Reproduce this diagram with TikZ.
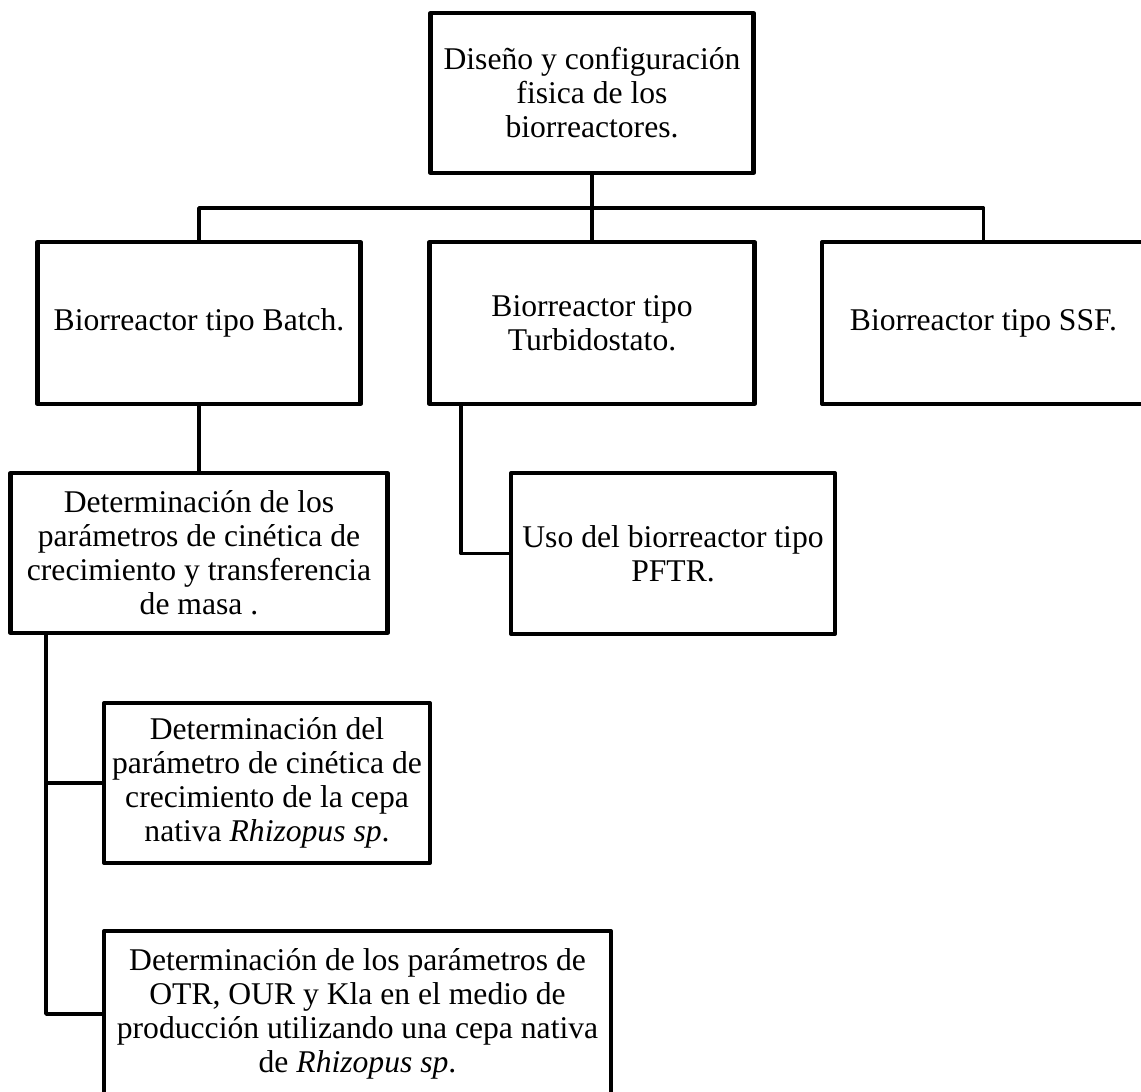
\documentclass[tikz,border=0pt]{standalone}
\usepackage{fontspec}
\setmainfont{Liberation Serif}
\begin{document}
\begin{tikzpicture}[x=0.02cm,y=-0.02cm,
  box/.style={draw,line width=2.4pt,line join=round,fill=white,align=center,inner sep=1pt,
    font=\fontsize{18}{19.4}\selectfont},
  conn/.style={draw,line width=2pt,line join=round}]
\useasboundingbox (0,0) rectangle (1141,1091);
\clip (0,0) rectangle (1141,1091);
% boxes
\node[box,minimum width=6.46cm,minimum height=3.2cm] (top) at (592,93)
  {Diseño y configuración\\ fisica de los\\ biorreactores.};
\node[box,minimum width=6.46cm,minimum height=3.24cm] (batch) at (199,323)
  {Biorreactor tipo Batch.};
\node[box,minimum width=6.5cm,minimum height=3.24cm] (turb) at (592,323)
  {Biorreactor tipo\\ Turbidostato.};
\node[box,minimum width=6.46cm,minimum height=3.24cm] (ssf) at (983.5,323)
  {Biorreactor tipo SSF.};
\node[box,minimum width=7.54cm,minimum height=3.2cm] (det) at (199,553)
  {Determinación de los\\ parámetros de cinética de\\ crecimiento y transferencia\\ de masa .};
\node[box,minimum width=6.48cm,minimum height=3.22cm] (pftr) at (673,553.5)
  {Uso del biorreactor tipo\\ PFTR.};
\node[box,minimum width=6.52cm,minimum height=3.2cm] (rhiz) at (267,783)
  {Determinación del\\ parámetro de cinética de\\ crecimiento de la cepa\\ nativa \textit{Rhizopus sp}.};
\node[box,minimum width=10.14cm,minimum height=3.32cm] (bot) at (357.5,1014)
  {Determinación de los parámetros de\\ OTR, OUR y Kla en el medio de\\ producción utilizando una cepa nativa\\ de \textit{Rhizopus sp}.};
% connectors
\coordinate (j) at (592,208);
\draw[conn] (top.south) -- (turb.north);
\draw[conn] (batch.north) |- (j) -| (ssf.north);
\draw[conn] (batch.south) -- (det.north);
\draw[conn] ([xshift=0.67cm]turb.south west) |- (pftr.west);
\coordinate (dl) at ([xshift=0.75cm]det.south west);
\draw[conn] (dl) |- (rhiz.west);
\draw[conn] (dl) |- (bot.west);
\end{tikzpicture}
\end{document}
